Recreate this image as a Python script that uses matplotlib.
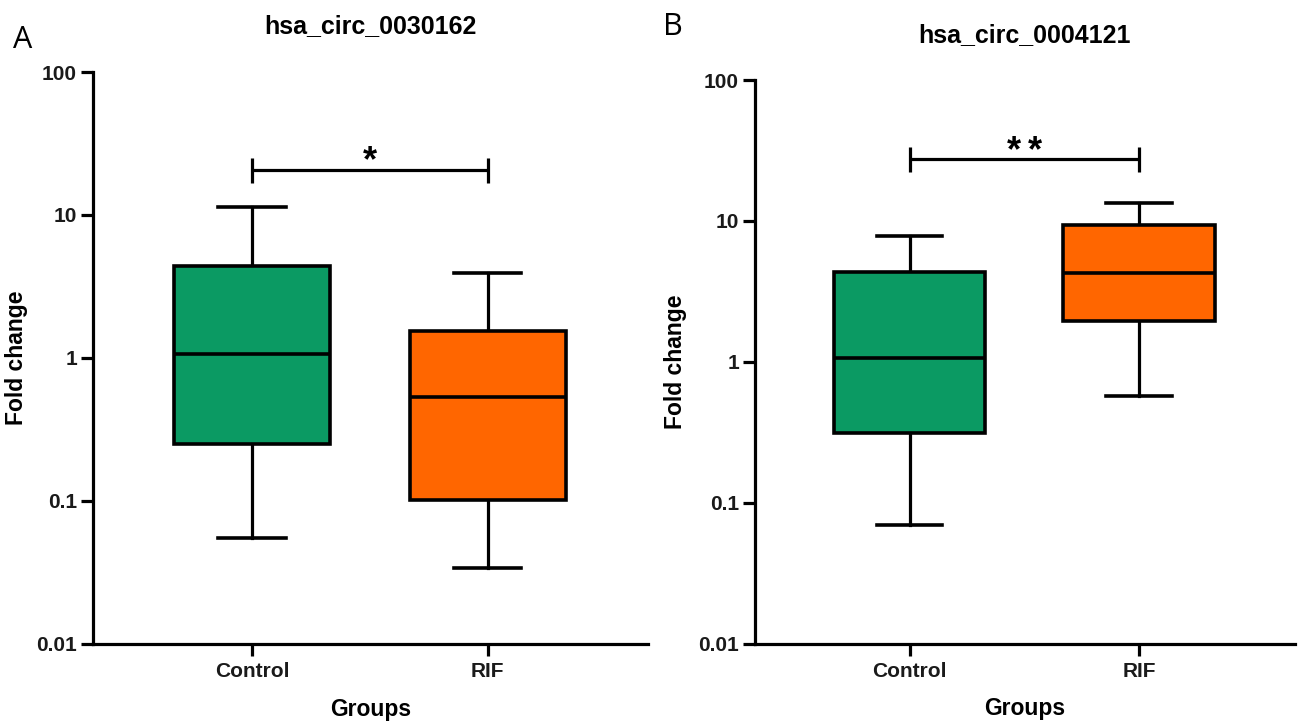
import matplotlib
matplotlib.use("Agg")
import matplotlib.pyplot as plt
from matplotlib import font_manager
from matplotlib.ticker import FixedLocator, FixedFormatter, NullLocator

# ---- data ----
groups = ["Control", "RIF"]
titles = ["hsa_circ_0030162", "hsa_circ_0004121"]
panel_letters = ["A", "B"]
significance = ["*", "**"]

# panel A: hsa_circ_0030162
a_whislo = [0.055, 0.034]
a_q1 = [0.249, 0.101]
a_med = [1.07, 0.535]
a_q3 = [4.4, 1.53]
a_whishi = [11.3, 3.89]
a_sig_y = 20.6

# panel B: hsa_circ_0004121
b_whislo = [0.0695, 0.571]
b_q1 = [0.31, 1.95]
b_med = [1.06, 4.3]
b_q3 = [4.37, 9.37]
b_whishi = [7.83, 13.3]
b_sig_y = 27.3

ytick_values = [0.01, 0.1, 1, 10, 100]
ytick_labels = ["0.01", "0.1", "1", "10", "100"]

colors = ["#0B9A63", "#FF6600"]

plt.rcParams['font.family'] = ['Liberation Sans', 'DejaVu Sans']

# condensed face for tick labels if installed
try:
    font_manager.findfont(font_manager.FontProperties(family='Liberation Sans Narrow', weight='bold'),
                          fallback_to_default=False)
    tick_family = ['Liberation Sans Narrow', 'Liberation Sans']
    tick_size = 16.5
except Exception:
    tick_family = ['Liberation Sans', 'DejaVu Sans']
    tick_size = 15

W, H = 1298, 724
fig = plt.figure(figsize=(W / 100, H / 100), dpi=100)

def px_axes(x0, x1, y_top, y_bot):
    return fig.add_axes([x0 / W, 1 - y_bot / H, (x1 - x0) / W, (y_bot - y_top) / H])

ax_a = px_axes(93, 648, 72, 643.5)
ax_b = px_axes(755, 1295, 80, 643.5)

panels = [
    (ax_a, a_whislo, a_q1, a_med, a_q3, a_whishi, a_sig_y),
    (ax_b, b_whislo, b_q1, b_med, b_q3, b_whishi, b_sig_y),
]

LW = 2.3
for i, (ax, wlo, q1, med, q3, whi, sig_y) in enumerate(panels):
    stats = []
    for j, g in enumerate(groups):
        stats.append(dict(label=g, whislo=wlo[j], q1=q1[j], med=med[j],
                          q3=q3[j], whishi=whi[j], fliers=[]))
    bp = ax.bxp(stats, positions=[0, 1], widths=0.66, capwidths=0.285,
                patch_artist=True, showfliers=False,
                boxprops=dict(linewidth=2.6, edgecolor='black'),
                medianprops=dict(color='black', linewidth=2.6),
                whiskerprops=dict(color='black', linewidth=LW),
                capprops=dict(color='black', linewidth=2.6))
    for patch, c in zip(bp['boxes'], colors):
        patch.set_facecolor(c)
        patch.set_zorder(2)
    for ln in bp['whiskers'] + bp['caps']:
        ln.set_zorder(1)

    ax.set_yscale('log')
    ax.set_ylim(0.01, 100)
    ax.set_xlim(-0.675, 1.68)
    ax.yaxis.set_major_locator(FixedLocator(ytick_values))
    ax.yaxis.set_major_formatter(FixedFormatter(ytick_labels))
    ax.yaxis.set_minor_locator(NullLocator())
    ax.set_xticks([0, 1])
    ax.set_xticklabels(groups)

    for side in ['top', 'right']:
        ax.spines[side].set_visible(False)
    for side in ['left', 'bottom']:
        ax.spines[side].set_linewidth(LW)
    ax.tick_params(axis='both', which='major', length=8.5, width=LW,
                   labelsize=tick_size, direction='out')
    ax.tick_params(axis='y', pad=3)
    ax.tick_params(axis='x', pad=5)
    for lab in ax.get_xticklabels() + ax.get_yticklabels():
        lab.set_fontweight('bold')
        lab.set_family(tick_family)
        lab.set_color('#1a1a1a')

    ax.set_xlabel("Groups", fontsize=16.5, fontweight='bold')
    ax.xaxis.set_label_coords(0.5, -0.115)
    ax.xaxis.label.set_va('center')
    ax.set_ylabel("Fold change", fontsize=16.5, fontweight='bold')
    ax.yaxis.set_label_coords(-0.137 if i == 0 else -0.148, 0.5)
    ax.yaxis.label.set_va('center')

    ax.set_title(titles[i], fontsize=18, fontweight='bold', y=1.08, va='center', pad=0)

    # significance bracket
    f = 1.223
    ax.plot([0, 1], [sig_y, sig_y], color='black', lw=LW, solid_capstyle='butt')
    ax.plot([0, 0], [sig_y / f, sig_y * f], color='black', lw=LW, solid_capstyle='butt')
    ax.plot([1, 1], [sig_y / f, sig_y * f], color='black', lw=LW, solid_capstyle='butt')
    stars = significance[i]
    n = len(stars)
    for k, ch in enumerate(stars):
        dx = (k - (n - 1) / 2) * 15
        ax.annotate(ch, xy=(0.5, sig_y), xytext=(dx, -1),
                    textcoords='offset points', ha='center', va='baseline',
                    fontsize=26, fontweight='bold')

fig.text(23 / W, 1 - 40 / H, panel_letters[0], fontsize=22, family='Open Sans',
         ha='center', va='center')
fig.text(673 / W, 1 - 27 / H, panel_letters[1], fontsize=22, family='Open Sans',
         ha='center', va='center')

fig.savefig("out.png", dpi=100)
